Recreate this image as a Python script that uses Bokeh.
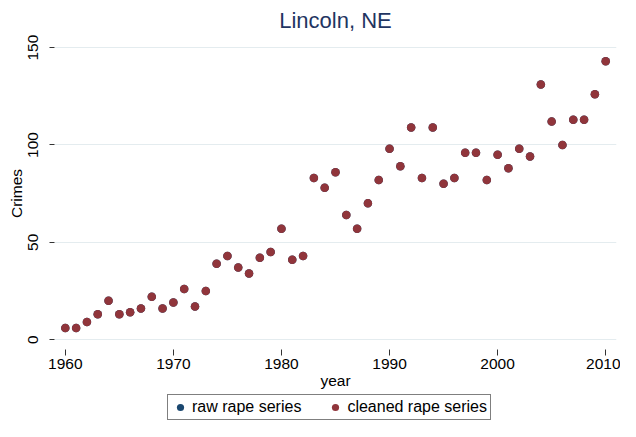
from bokeh.plotting import figure
from bokeh.layouts import column
from bokeh.models import Range1d, FixedTicker, Legend, LegendItem, ColumnDataSource
from bokeh.embed import file_html
from bokeh.resources import INLINE

years = list(range(1960, 2011))
cleaned_rape = [6, 6, 9, 13, 20, 13, 14, 16, 22, 16,
                19, 26, 17, 25, 39, 43, 37, 34, 42, 45,
                57, 41, 43, 83, 78, 86, 64, 57, 70, 82,
                98, 89, 109, 83, 109, 80, 83, 96, 96, 82,
                95, 88, 98, 94, 131, 112, 100, 113, 113, 126,
                143]
raw_rape = [6, 6, 9, 13, 20, 13, 14, 16, 22, 16,
            19, 26, 17, 25, 39, 43, 37, 34, 42, 45,
            57, 41, 43, 83, 78, 86, 64, 57, 70, 82,
            98, 89, 109, 83, 109, 80, 83, 96, 96, 82,
            95, 88, 98, 94, 131, 112, 100, 113, 113, 126,
            143]
x_ticks = [1960, 1970, 1980, 1990, 2000, 2010]
y_ticks = [0, 50, 100, 150]
series_labels = ["raw rape series", "cleaned rape series"]

FONT = "Liberation Sans"
RED = "#90353B"
NAVY = "#1A476F"

p = figure(width=620, height=394, output_backend="svg", toolbar_location=None,
           x_range=Range1d(1959, 2011), y_range=Range1d(-5.1, 155.2),
           min_border_left=54, min_border_right=4, min_border_top=29,
           min_border_bottom=45, background_fill_color="white",
           border_fill_color="white")
p.outline_line_color = None

p.title.text = "Lincoln, NE"
p.title.align = "center"
p.title.text_font = FONT
p.title.text_font_size = "22px"
p.title.text_font_style = "normal"
p.title.text_color = "#1f3562"

src_raw = ColumnDataSource(dict(x=years, y=raw_rape))
src_clean = ColumnDataSource(dict(x=years, y=cleaned_rape))
r_raw = p.scatter("x", "y", source=src_raw, size=8.5, fill_color=NAVY, line_color=None)
r_clean = p.scatter("x", "y", source=src_clean, size=8.5, fill_color=RED, line_color=None)

p.xgrid.grid_line_color = None
p.ygrid.grid_line_color = "#e4ecef"
p.ygrid.grid_line_width = 1
p.ygrid.ticker = FixedTicker(ticks=y_ticks)

for ax in (p.xaxis[0], p.yaxis[0]):
    ax.axis_line_color = None
    ax.major_tick_in = 0
    ax.minor_tick_line_color = None
    ax.major_tick_line_color = "#333333"
    ax.major_label_text_font = FONT
    ax.major_label_text_font_size = "15.5px"
    ax.major_label_text_color = "black"
    ax.axis_label_text_font = FONT
    ax.axis_label_text_font_size = "15.5px"
    ax.axis_label_text_font_style = "normal"
    ax.axis_label_text_color = "black"

p.xaxis.ticker = FixedTicker(ticks=x_ticks)
p.yaxis.ticker = FixedTicker(ticks=y_ticks)
p.xaxis.major_tick_out = 6
p.yaxis.major_tick_out = 5
p.xaxis.major_label_standoff = 3
p.yaxis.major_label_standoff = 11
p.yaxis.major_label_orientation = "vertical"
p.xaxis.axis_label = "year"
p.yaxis.axis_label = "Crimes"
p.xaxis.axis_label_standoff = 0
p.yaxis.axis_label_standoff = 1

# legend strip below the chart (its frame is aligned with the chart's frame)
lg = figure(width=620, height=27, output_backend="svg", toolbar_location=None,
            x_range=Range1d(0, 1), y_range=Range1d(0, 1),
            min_border_left=0, min_border_right=0, min_border_top=0,
            min_border_bottom=0, x_axis_type=None, y_axis_type=None,
            background_fill_color="white", border_fill_color="white")
lg.outline_line_color = None
lg.grid.visible = False
# keys only: their points lie outside this strip's ranges, so only the legend shows them
g_raw = lg.scatter(x=years[:1], y=raw_rape[:1], size=8.5, fill_color=NAVY, line_color=None)
g_clean = lg.scatter(x=years[:1], y=cleaned_rape[:1], size=8.5, fill_color=RED, line_color=None)

legend = Legend(items=[LegendItem(label=series_labels[0], renderers=[g_raw]),
                       LegendItem(label=series_labels[1], renderers=[g_clean])],
                orientation="horizontal", location=(113, 1),
                border_line_color="black", border_line_width=1,
                background_fill_color="white", background_fill_alpha=1,
                padding=3, spacing=25, margin=0,
                glyph_width=18, glyph_height=18, label_standoff=3,
                label_text_font=FONT, label_text_font_size="16px",
                label_text_color="black")
lg.add_layout(legend, "center")

layout = column(p, lg, spacing=0)
open("out.html", "w").write(file_html(layout, INLINE))
